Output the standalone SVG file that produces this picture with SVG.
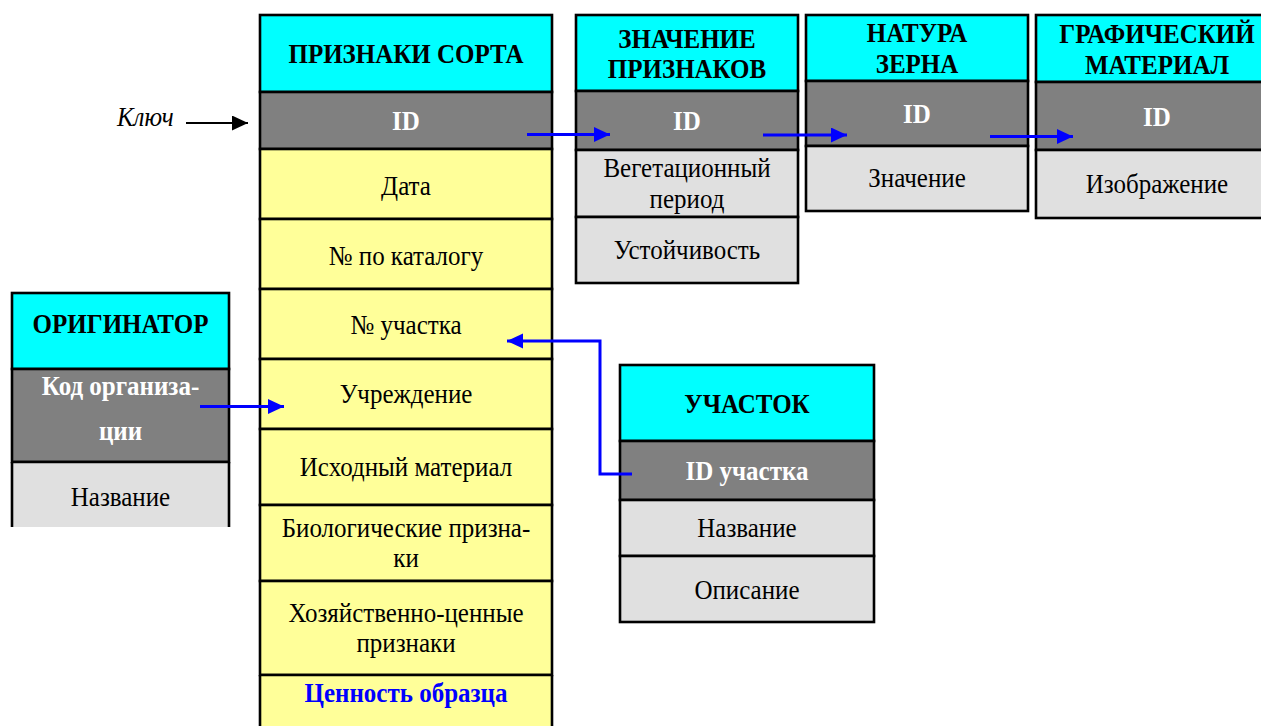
<svg xmlns="http://www.w3.org/2000/svg" width="1261" height="726" viewBox="0 0 1261 726">
<defs>
<style>
.hdr{fill:#00ffff;stroke:#000;stroke-width:2.6}
.key{fill:#808080;stroke:#000;stroke-width:2.6}
.row{fill:#ffff99;stroke:#000;stroke-width:2.6}
.lg{fill:#e0e0e0;stroke:#000;stroke-width:2.6}
.nf{stroke:none}
.ln{stroke:#000;stroke-width:2.6;fill:none}
text{font-family:"Liberation Serif","Times New Roman",serif;font-size:25px;text-anchor:middle;fill:#000}
.b{font-weight:bold}
.w{fill:#fff;font-weight:bold}
.bl{fill:#0000ff;font-weight:bold}
.it{font-style:italic;text-anchor:start}
.conn{stroke:#0000ff;stroke-width:3;fill:none}
.blk{stroke:#000;stroke-width:2;fill:none}
</style>
<marker id="ab" markerUnits="userSpaceOnUse" markerWidth="17" markerHeight="16" refX="16" refY="7.5" orient="auto">
<path d="M0,0 L16,7.5 L0,15 z" fill="#0000ff"/>
</marker>
<marker id="ak" markerUnits="userSpaceOnUse" markerWidth="17" markerHeight="16" refX="16" refY="7.5" orient="auto">
<path d="M0,0 L16,7.5 L0,15 z" fill="#000"/>
</marker>
</defs>
<rect width="1261" height="726" fill="#fff"/>

<g id="priznaki-sorta">
<rect class="hdr" x="260" y="15" width="292" height="77"/>
<rect class="key" x="260" y="92" width="292" height="57"/>
<rect class="row" x="260" y="149" width="292" height="70"/>
<rect class="row" x="260" y="219" width="292" height="70"/>
<rect class="row" x="260" y="289" width="292" height="70"/>
<rect class="row" x="260" y="359" width="292" height="70"/>
<rect class="row" x="260" y="429" width="292" height="76"/>
<rect class="row" x="260" y="505" width="292" height="76"/>
<rect class="row" x="260" y="581" width="292" height="94"/>
<rect class="row nf" x="260" y="675" width="292" height="60"/>
<path class="ln" d="M260,675 V735 M552,675 V735 M260,675 H552"/>
<text class="b" transform="translate(406,63) scale(1,1.1)">ПРИЗНАКИ СОРТА</text>
<text class="w" transform="translate(406,130) scale(1,1.1)">ID</text>
<text transform="translate(406,195) scale(1,1.1)">Дата</text>
<text transform="translate(406,265) scale(1,1.1)">№ по каталогу</text>
<text transform="translate(406,334) scale(1,1.1)">№ участка</text>
<text transform="translate(406,403) scale(1,1.1)">Учреждение</text>
<text transform="translate(406,476) scale(1,1.1)">Исходный материал</text>
<text transform="translate(406,537) scale(1,1.1)">Биологические призна-</text>
<text transform="translate(406,567) scale(1,1.1)">ки</text>
<text transform="translate(406,621.5) scale(1,1.1)">Хозяйственно-ценные</text>
<text transform="translate(406,651.5) scale(1,1.1)">признаки</text>
<text class="bl" transform="translate(406,701.5) scale(1,1.1)">Ценность образца</text>
</g>

<g id="klyuch">
<text class="it" transform="translate(117,126) scale(1,1.1)">Ключ</text>
</g>

<g id="znachenie-priznakov">
<rect class="hdr" x="576" y="15" width="222" height="76"/>
<rect class="key" x="576" y="91" width="222" height="59"/>
<rect class="lg" x="576" y="150" width="222" height="67"/>
<rect class="lg" x="576" y="217" width="222" height="66"/>
<text class="b" transform="translate(687,48) scale(1,1.1)">ЗНАЧЕНИЕ</text>
<text class="b" transform="translate(687,78) scale(1,1.1)">ПРИЗНАКОВ</text>
<text class="w" transform="translate(687,130) scale(1,1.1)">ID</text>
<text transform="translate(687,176.5) scale(1,1.1)">Вегетационный</text>
<text transform="translate(687,208) scale(1,1.1)">период</text>
<text transform="translate(687,259) scale(1,1.1)">Устойчивость</text>
</g>

<g id="natura-zerna">
<rect class="hdr" x="806" y="15" width="222" height="66"/>
<rect class="key" x="806" y="81" width="222" height="65"/>
<rect class="lg" x="806" y="146" width="222" height="65"/>
<text class="b" transform="translate(917,41.5) scale(1,1.1)">НАТУРА</text>
<text class="b" transform="translate(917,72.5) scale(1,1.1)">ЗЕРНА</text>
<text class="w" transform="translate(917,122.5) scale(1,1.1)">ID</text>
<text transform="translate(917,186.5) scale(1,1.1)">Значение</text>
</g>

<g id="graficheskiy-material">
<rect class="hdr" x="1036" y="15" width="250" height="67"/>
<rect class="key" x="1036" y="82" width="250" height="68"/>
<rect class="lg" x="1036" y="150" width="250" height="68"/>
<text class="b" transform="translate(1157,43.3) scale(1,1.1)">ГРАФИЧЕСКИЙ</text>
<text class="b" transform="translate(1157,74) scale(1,1.1)">МАТЕРИАЛ</text>
<text class="w" transform="translate(1157,126) scale(1,1.1)">ID</text>
<text transform="translate(1157,193.3) scale(1,1.1)">Изображение</text>
</g>

<g id="originator">
<rect class="hdr" x="12" y="293" width="217" height="76"/>
<rect class="key" x="12" y="369" width="217" height="93"/>
<rect class="lg nf" x="12" y="462" width="217" height="65"/>
<path class="ln" d="M12,462 V527 M229,462 V527 M12,462 H229"/>
<text class="b" transform="translate(120.5,333) scale(1,1.1)">ОРИГИНАТОР</text>
<text class="w" transform="translate(120.5,395) scale(1,1.1)">Код организа-</text>
<text class="w" transform="translate(120.5,440) scale(1,1.1)">ции</text>
<text transform="translate(120.5,505.5) scale(1,1.1)">Название</text>
</g>

<g id="uchastok">
<rect class="hdr" x="620" y="365" width="254" height="76"/>
<rect class="key" x="620" y="441" width="254" height="59"/>
<rect class="lg" x="620" y="500" width="254" height="56"/>
<rect class="lg" x="620" y="556" width="254" height="66"/>
<text class="b" transform="translate(747,412.5) scale(1,1.1)">УЧАСТОК</text>
<text class="w" transform="translate(747,480) scale(1,1.1)">ID участка</text>
<text transform="translate(747,536.5) scale(1,1.1)">Название</text>
<text transform="translate(747,599) scale(1,1.1)">Описание</text>
</g>

<g id="connectors">
<line class="blk" x1="186" y1="123" x2="248" y2="123" marker-end="url(#ak)"/>
<line class="conn" x1="527" y1="134.5" x2="610" y2="134.5" marker-end="url(#ab)"/>
<line class="conn" x1="763" y1="135" x2="847" y2="135" marker-end="url(#ab)"/>
<line class="conn" x1="990" y1="136.5" x2="1073" y2="136.5" marker-end="url(#ab)"/>
<line class="conn" x1="200" y1="406.5" x2="284" y2="406.5" marker-end="url(#ab)"/>
<polyline class="conn" points="632,474 600,474 600,341 507,341" marker-end="url(#ab)"/>
</g>
</svg>
